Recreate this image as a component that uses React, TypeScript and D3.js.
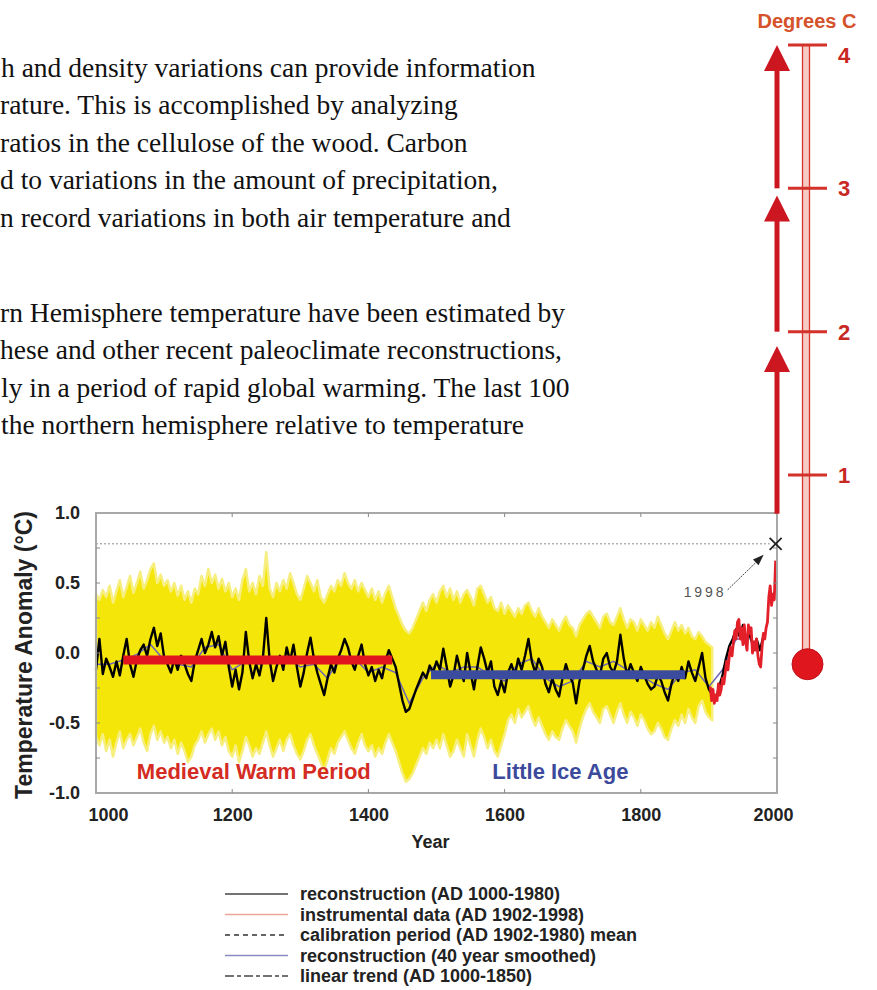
import React, { useEffect, useRef } from "react";
import * as d3 from "d3";

// Northern Hemisphere reconstruction, one value every 5 years, AD 1000-1980
const recon = [
  -0.12, 0.10, -0.15, -0.04, -0.10, -0.17, -0.06, -0.16, -0.02, 0.10,
  -0.08, -0.17, -0.05, 0.02, 0.06, -0.02, 0.10, 0.18, 0.05, 0.14,
  -0.03, -0.08, -0.14, -0.04, -0.12, -0.02, -0.08, -0.15, -0.20, -0.06,
  0.02, 0.10, 0.00, 0.06, 0.15, 0.04, 0.12, -0.02, 0.08, -0.10,
  -0.24, -0.12, -0.26, -0.14, 0.15, -0.06, -0.18, -0.08, -0.16, -0.04,
  0.25, -0.05, -0.20, -0.10, -0.02, -0.12, 0.04, -0.06, 0.06, -0.10,
  -0.24, -0.14, 0.00, 0.11, -0.04, -0.14, -0.22, -0.30, -0.18, -0.08,
  -0.14, -0.04, 0.02, 0.10, 0.04, -0.06, -0.12, -0.02, 0.06, -0.08,
  -0.16, -0.10, -0.20, -0.12, -0.18, -0.06, 0.02, -0.04, -0.10, -0.22,
  -0.34, -0.42, -0.40, -0.33, -0.26, -0.20, -0.14, -0.18, -0.09, -0.14,
  -0.06, -0.12, 0.03, -0.10, -0.24, -0.16, -0.02, -0.12, -0.20, 0.00,
  -0.14, -0.26, -0.10, 0.04, -0.04, -0.14, -0.06, -0.24, -0.30, -0.20,
  -0.28, -0.14, -0.08, -0.16, -0.04, -0.12, -0.02, 0.10, -0.06, -0.14,
  -0.04, -0.10, -0.22, -0.28, -0.18, -0.26, -0.31, -0.18, -0.08, -0.16,
  -0.21, -0.36, -0.20, -0.12, -0.02, 0.05, -0.06, -0.12, -0.16, -0.04,
  0.00, -0.10, -0.14, -0.06, 0.13, -0.04, -0.16, -0.08, -0.14, -0.20,
  -0.10, -0.16, -0.22, -0.26, -0.24, -0.16, -0.20, -0.28, -0.34, -0.22,
  -0.14, -0.20, -0.10, -0.18, -0.06, -0.14, -0.20, -0.10, 0.00, -0.18,
  -0.26, -0.30, -0.34, -0.24, -0.16, -0.04, 0.05, 0.10, 0.17, 0.12,
  0.20, 0.08, 0.14, 0.04, 0.10, 0.02, 0.12,
];

// uncertainty band (yellow), every 5 years, AD 1000-1905
const bandUpper = [
  0.42, 0.38, 0.45, 0.40, 0.48, 0.36, 0.44, 0.52, 0.40, 0.47,
  0.55, 0.43, 0.50, 0.58, 0.46, 0.52, 0.60, 0.64, 0.50, 0.56,
  0.48, 0.52, 0.44, 0.50, 0.41, 0.48, 0.38, 0.44, 0.36, 0.46,
  0.42, 0.55, 0.48, 0.60, 0.50, 0.56, 0.46, 0.53, 0.44, 0.50,
  0.40, 0.46, 0.38, 0.52, 0.60, 0.44, 0.50, 0.42, 0.55, 0.48,
  0.72, 0.46, 0.40, 0.50, 0.44, 0.52, 0.46, 0.57, 0.50, 0.42,
  0.38, 0.46, 0.55, 0.50, 0.44, 0.52, 0.40, 0.36, 0.42, 0.48,
  0.44, 0.52, 0.48, 0.57, 0.50, 0.46, 0.52, 0.44, 0.50, 0.45,
  0.40, 0.46, 0.38, 0.44, 0.36, 0.43, 0.48, 0.40, 0.32, 0.26,
  0.20, 0.16, 0.14, 0.18, 0.24, 0.30, 0.36, 0.30, 0.38, 0.42,
  0.36, 0.44, 0.48, 0.40, 0.46, 0.38, 0.44, 0.36, 0.42, 0.45,
  0.40, 0.34, 0.46, 0.48, 0.42, 0.36, 0.40, 0.32, 0.30, 0.36,
  0.28, 0.34, 0.30, 0.26, 0.32, 0.28, 0.34, 0.36, 0.30, 0.26,
  0.32, 0.26, 0.22, 0.18, 0.24, 0.20, 0.16, 0.22, 0.26, 0.20,
  0.18, 0.12, 0.20, 0.24, 0.28, 0.30, 0.26, 0.22, 0.18, 0.26,
  0.28, 0.22, 0.20, 0.26, 0.32, 0.24, 0.18, 0.24, 0.22, 0.16,
  0.24, 0.20, 0.16, 0.22, 0.18, 0.26, 0.20, 0.14, 0.10, 0.16,
  0.22, 0.16, 0.20, 0.14, 0.18, 0.12, 0.10, 0.15, 0.12, 0.08,
  0.06, 0.04,
];
const bandLower = [
  -0.60, -0.66, -0.58, -0.70, -0.62, -0.74, -0.64, -0.56, -0.68, -0.62,
  -0.58, -0.66, -0.60, -0.54, -0.64, -0.70, -0.58, -0.52, -0.62, -0.56,
  -0.64, -0.60, -0.68, -0.62, -0.72, -0.64, -0.70, -0.78, -0.74, -0.66,
  -0.62, -0.56, -0.64, -0.58, -0.54, -0.62, -0.56, -0.66, -0.60, -0.70,
  -0.74, -0.66, -0.78, -0.70, -0.60, -0.66, -0.74, -0.68, -0.72, -0.64,
  -0.56, -0.66, -0.74, -0.68, -0.62, -0.70, -0.62, -0.58, -0.66, -0.72,
  -0.76, -0.70, -0.62, -0.58, -0.66, -0.72, -0.78, -0.84, -0.76, -0.68,
  -0.72, -0.64, -0.60, -0.56, -0.62, -0.68, -0.72, -0.64, -0.58, -0.66,
  -0.70, -0.66, -0.74, -0.68, -0.72, -0.64, -0.58, -0.64, -0.70, -0.78,
  -0.86, -0.92, -0.90, -0.86, -0.80, -0.74, -0.68, -0.72, -0.64, -0.68,
  -0.62, -0.68, -0.58, -0.66, -0.74, -0.70, -0.62, -0.68, -0.74, -0.58,
  -0.66, -0.74, -0.62, -0.54, -0.60, -0.68, -0.62, -0.70, -0.74, -0.66,
  -0.58, -0.48, -0.44, -0.50, -0.40, -0.46, -0.42, -0.38, -0.46, -0.52,
  -0.46, -0.52, -0.58, -0.62, -0.56, -0.60, -0.62, -0.54, -0.48, -0.52,
  -0.56, -0.64, -0.54, -0.46, -0.40, -0.36, -0.42, -0.46, -0.50, -0.40,
  -0.38, -0.44, -0.50, -0.42, -0.36, -0.44, -0.50, -0.42, -0.46, -0.52,
  -0.44, -0.48, -0.54, -0.58, -0.56, -0.50, -0.54, -0.60, -0.62, -0.54,
  -0.48, -0.52, -0.44, -0.50, -0.40, -0.46, -0.50, -0.38, -0.34, -0.42,
  -0.46, -0.48,
];

// 40 year smoothed reconstruction, every 20 years, AD 1000-1960
const smoothed = [
  -0.08, -0.08, -0.05, -0.01, 0.06, -0.05, -0.08, -0.10, 0.04, 0.06,
  -0.12, -0.06, -0.08, -0.06, -0.02, -0.10, -0.08, -0.18, -0.02, -0.04,
  -0.14, -0.10, -0.14, -0.36, -0.18, -0.08, -0.14, -0.10, -0.10, -0.16,
  -0.20, -0.08, -0.04, -0.18, -0.24, -0.20, -0.06, -0.10, -0.06, -0.12,
  -0.16, -0.22, -0.26, -0.14, -0.12, -0.24, -0.12, 0.10, 0.10,
];

// instrumental data, AD 1902-1998 every 2 years
const instrumental = [
  -0.24, -0.34, -0.26, -0.36, -0.30, -0.34, -0.22, -0.30, -0.26, -0.18,
  -0.22, -0.14, -0.06, -0.12, -0.02, 0.04, -0.02, 0.08, 0.16, 0.10,
  0.22, 0.24, 0.10, 0.18, 0.06, 0.20, 0.08, 0.02, 0.20, 0.14,
  0.18, 0.00, 0.08, 0.02, 0.10, -0.02, -0.08, -0.10, 0.04, 0.14,
  0.10, 0.18, 0.22, 0.40, 0.48, 0.34, 0.42, 0.38, 0.66,
];

const record1998 = { year: 1998, value: 0.78 };

const mwpSpan = [1040, 1435];
const mwpLevel = -0.05;
const liaSpan = [1492, 1865];
const liaLevel = -0.155;

const xTicks = [1000, 1200, 1400, 1600, 1800, 2000];
const yTicks = [-1, -0.5, 0, 0.5, 1];

const thermoTicks = [1, 2, 3, 4];
const thermoArrows = [[0.73, 1.9], [2, 2.95], [3, 4]];
const thermoBulb = -0.32;

const legendItems = [
  { label: "reconstruction (AD 1000-1980)", color: "#444", dash: null },
  { label: "instrumental data (AD 1902-1998)", color: "#e9a696", dash: null },
  { label: "calibration period (AD 1902-1980) mean", color: "#333", dash: "5,4" },
  { label: "reconstruction (40 year smoothed)", color: "#8a8ac4", dash: null },
  { label: "linear trend (AD 1000-1850)", color: "#444", dash: "9,3,4,3" },
];

// page text running beside the figure (cut off on the left)
const bodyLines = [
  "h and density variations can provide information",
  "rature. This is accomplished by analyzing",
  "ratios in the cellulose of the wood. Carbon",
  "d to variations in the amount of precipitation,",
  "n record variations in both air temperature and",
  "rn Hemisphere temperature have been estimated by",
  "hese and other recent paleoclimate reconstructions,",
  "ly in a period of rapid global warming. The last 100",
  "the northern hemisphere relative to temperature",
];
const bodyShift = [1, 0, 0, 0, 0, 0, 0, 1, 1];

const App = () => {
  const ref = useRef<SVGSVGElement | null>(null);

  useEffect(() => {
    const svg = d3.select(ref.current);
    svg.selectAll("*").remove();

    const sans = "'Liberation Sans', Arial, Helvetica, sans-serif";
    const plot = { left: 96, right: 777, top: 513, bottom: 793 };
    const x = d3.scaleLinear().domain([1000, 2000]).range([plot.left, plot.right]);
    const y = d3.scaleLinear().domain([-1, 1]).range([plot.bottom, plot.top]);

    svg.append("rect").attr("width", 877).attr("height", 990).attr("fill", "#fff");

    // body text
    svg
      .append("g")
      .attr("font-family", "'Liberation Serif', 'Times New Roman', serif")
      .attr("font-size", 27.5)
      .attr("fill", "#111")
      .selectAll("text")
      .data(bodyLines)
      .join("text")
      .attr("x", (d, i) => bodyShift[i])
      .attr("y", (d, i) => (i < 5 ? 77 + i * 37.4 : 322 + (i - 5) * 37.4))
      .text((d) => d);

    // yellow uncertainty band
    const band = bandUpper.map((hi, i) => ({ year: 1000 + i * 5, hi, lo: bandLower[i] }));
    const area = d3
      .area<any>()
      .x((d) => x(d.year))
      .y0((d) => y(d.lo))
      .y1((d) => y(d.hi));
    svg
      .append("path")
      .datum(band)
      .attr("d", area)
      .attr("fill", "#f5e60a")
      .attr("stroke", "#f7ee80")
      .attr("stroke-width", 2.5)
      .attr("stroke-linejoin", "round");

    // dotted 1998 level
    svg
      .append("line")
      .attr("x1", x(1000))
      .attr("x2", x(record1998.year) - 6)
      .attr("y1", y(record1998.value))
      .attr("y2", y(record1998.value))
      .attr("stroke", "#8a8a8a")
      .attr("stroke-width", 1)
      .attr("stroke-dasharray", "2,2");

    const line = d3
      .line<any>()
      .x((d) => x(d.year))
      .y((d) => y(d.v));

    // smoothed reconstruction
    svg
      .append("path")
      .datum(smoothed.map((v, i) => ({ year: 1000 + i * 20, v })))
      .attr("d", line)
      .attr("fill", "none")
      .attr("stroke", "#6d66b4")
      .attr("stroke-width", 1.5);

    // annual reconstruction
    svg
      .append("path")
      .datum(recon.map((v, i) => ({ year: 1000 + i * 5, v })))
      .attr("d", line)
      .attr("fill", "none")
      .attr("stroke", "#000")
      .attr("stroke-width", 2.4)
      .attr("stroke-linejoin", "round");

    // period mean bars
    const bars = [
      { span: mwpSpan, level: mwpLevel, color: "#e0151d" },
      { span: liaSpan, level: liaLevel, color: "#3b4c9e" },
    ];
    svg
      .selectAll("line.period")
      .data(bars)
      .join("line")
      .attr("class", "period")
      .attr("x1", (d) => x(d.span[0]))
      .attr("x2", (d) => x(d.span[1]))
      .attr("y1", (d) => y(d.level))
      .attr("y2", (d) => y(d.level))
      .attr("stroke", (d) => d.color)
      .attr("stroke-width", 9);

    // instrumental record
    svg
      .append("path")
      .datum(instrumental.map((v, i) => ({ year: 1902 + i * 2, v })))
      .attr("d", line)
      .attr("fill", "none")
      .attr("stroke", "#e3202a")
      .attr("stroke-width", 2.8)
      .attr("stroke-linejoin", "round");

    // frame and inward ticks
    svg
      .append("rect")
      .attr("x", plot.left)
      .attr("y", plot.top)
      .attr("width", plot.right - plot.left)
      .attr("height", plot.bottom - plot.top)
      .attr("fill", "none")
      .attr("stroke", "#a8a8a8")
      .attr("stroke-width", 2);
    const tickG = svg.append("g").attr("stroke", "#888").attr("stroke-width", 1);
    xTicks.slice(1, -1).forEach((t) => {
      tickG.append("line").attr("x1", x(t)).attr("x2", x(t)).attr("y1", plot.top).attr("y2", plot.top + 4);
      tickG.append("line").attr("x1", x(t)).attr("x2", x(t)).attr("y1", plot.bottom).attr("y2", plot.bottom - 4);
    });
    d3.range(-0.75, 1, 0.25).forEach((t) => {
      tickG.append("line").attr("x1", plot.left).attr("x2", plot.left + 4).attr("y1", y(t)).attr("y2", y(t));
      tickG.append("line").attr("x1", plot.right).attr("x2", plot.right - 4).attr("y1", y(t)).attr("y2", y(t));
    });

    // axes
    const xAxis = svg
      .append("g")
      .attr("transform", `translate(0,${plot.bottom})`)
      .call(d3.axisBottom(x).tickValues(xTicks).tickSize(0).tickPadding(15).tickFormat(d3.format("d")));
    xAxis.select(".domain").remove();
    xAxis
      .attr("font-family", sans)
      .attr("font-size", 18)
      .attr("font-weight", "bold")
      .selectAll("text")
      .attr("fill", "#222")
      .attr("dx", (d: any) => (d === 1000 ? 12 : d === 2000 ? -4 : 0));

    const yAxis = svg
      .append("g")
      .attr("transform", `translate(${plot.left},0)`)
      .call(d3.axisLeft(y).tickValues(yTicks).tickSize(0).tickPadding(16).tickFormat((d: any) => d.toFixed(1)));
    yAxis.select(".domain").remove();
    yAxis.attr("font-family", sans).attr("font-size", 18).attr("font-weight", "bold").selectAll("text").attr("fill", "#222");

    svg
      .append("text")
      .attr("x", (plot.left + plot.right) / 2 - 6)
      .attr("y", 848)
      .attr("text-anchor", "middle")
      .attr("font-family", sans)
      .attr("font-size", 18)
      .attr("font-weight", "bold")
      .attr("fill", "#222")
      .text("Year");

    svg
      .append("text")
      .attr("transform", `translate(32,${(plot.top + plot.bottom) / 2 + 2}) rotate(-90)`)
      .attr("text-anchor", "middle")
      .attr("font-family", sans)
      .attr("font-size", 23)
      .attr("font-weight", "bold")
      .attr("fill", "#222")
      .text("Temperature Anomaly (°C)");

    // period names
    svg
      .append("text")
      .attr("x", x(1060))
      .attr("y", y(-0.9))
      .attr("font-family", sans)
      .attr("font-size", 22)
      .attr("font-weight", "bold")
      .attr("fill", "#d42b22")
      .text("Medieval Warm Period");
    svg
      .append("text")
      .attr("x", x(1582))
      .attr("y", y(-0.9))
      .attr("font-family", sans)
      .attr("font-size", 22)
      .attr("font-weight", "bold")
      .attr("fill", "#3c4a9c")
      .text("Little Ice Age");

    // 1998 marker and pointer
    const rx = x(record1998.year);
    const ry = y(record1998.value);
    svg
      .append("path")
      .attr("d", `M${rx - 6},${ry - 6}L${rx + 6},${ry + 6}M${rx - 6},${ry + 6}L${rx + 6},${ry - 6}`)
      .attr("stroke", "#222")
      .attr("stroke-width", 1.8);
    const sx = rx - 48;
    const sy = ry + 46;
    const ex = rx - 12;
    const ey = ry + 11;
    svg
      .append("line")
      .attr("x1", sx)
      .attr("y1", sy)
      .attr("x2", ex - 6)
      .attr("y2", ey + 6)
      .attr("stroke", "#444")
      .attr("stroke-width", 1)
      .attr("stroke-dasharray", "2,1");
    const ang = Math.atan2(ey - sy, ex - sx);
    const hx = ex - 11 * Math.cos(ang);
    const hy = ey - 11 * Math.sin(ang);
    const px = -Math.sin(ang) * 4;
    const py = Math.cos(ang) * 4;
    svg
      .append("path")
      .attr("d", `M${ex},${ey}L${hx + px},${hy + py}L${hx - px},${hy - py}Z`)
      .attr("fill", "#222");
    svg
      .append("text")
      .attr("x", sx - 4)
      .attr("y", sy + 7)
      .attr("text-anchor", "end")
      .attr("font-family", sans)
      .attr("font-size", 14)
      .attr("fill", "#555")
      .attr("textLength", 40)
      .text("1998");

    // thermometer scale on the right
    const t = d3.scaleLinear().domain([1, 4]).range([475, 45]);
    const tubeX = 806;
    svg
      .append("rect")
      .attr("x", tubeX - 3.5)
      .attr("y", t(4))
      .attr("width", 7)
      .attr("height", t(thermoBulb) - t(4))
      .attr("fill", "#f5cbc4")
      .attr("stroke", "#d3352c")
      .attr("stroke-width", 1.3);
    svg
      .append("circle")
      .attr("cx", tubeX + 1.5)
      .attr("cy", t(thermoBulb))
      .attr("r", 15.5)
      .attr("fill", "#e0161f")
      .attr("stroke", "#c01018")
      .attr("stroke-width", 1);
    svg
      .selectAll("line.ttick")
      .data(thermoTicks)
      .join("line")
      .attr("class", "ttick")
      .attr("x1", tubeX - 18)
      .attr("x2", tubeX + 21)
      .attr("y1", (d) => t(d))
      .attr("y2", (d) => t(d))
      .attr("stroke", "#d23229")
      .attr("stroke-width", 3);
    svg
      .selectAll("text.tlabel")
      .data(thermoTicks)
      .join("text")
      .attr("class", "tlabel")
      .attr("x", 838)
      .attr("y", (d) => t(d) + (d === 4 ? 10 : 0))
      .attr("dy", "0.36em")
      .attr("font-family", sans)
      .attr("font-size", 22)
      .attr("font-weight", "bold")
      .attr("fill", "#c8281f")
      .text((d) => String(d));
    svg
      .append("text")
      .attr("x", 807)
      .attr("y", 28)
      .attr("text-anchor", "middle")
      .attr("font-family", sans)
      .attr("font-size", 20)
      .attr("font-weight", "bold")
      .attr("fill", "#d5522b")
      .text("Degrees C");

    const ax = x(2000);
    thermoArrows.forEach(([from, to]) => {
      svg
        .append("line")
        .attr("x1", ax)
        .attr("x2", ax)
        .attr("y1", t(from))
        .attr("y2", t(to) + 24)
        .attr("stroke", "#cc1620")
        .attr("stroke-width", 5);
      svg
        .append("path")
        .attr("d", `M${ax},${t(to)}L${ax - 13},${t(to) + 26}L${ax + 13},${t(to) + 26}Z`)
        .attr("fill", "#cc1620");
    });

    // legend
    const legend = svg.append("g").attr("font-family", sans).attr("font-size", 18).attr("font-weight", "bold");
    legendItems.forEach((item, i) => {
      const by = 900 + i * 20.5;
      legend
        .append("line")
        .attr("x1", 225)
        .attr("x2", 288)
        .attr("y1", by - 6)
        .attr("y2", by - 6)
        .attr("stroke", item.color)
        .attr("stroke-width", 1.5)
        .attr("stroke-dasharray", item.dash);
      legend.append("text").attr("x", 300).attr("y", by).attr("fill", "#222").text(item.label);
    });
  }, []);

  return (
    <svg
      ref={ref}
      width={877}
      height={990}
      style={{ position: "absolute", left: 0, top: 0, display: "block" }}
    />
  );
};

export default App;
